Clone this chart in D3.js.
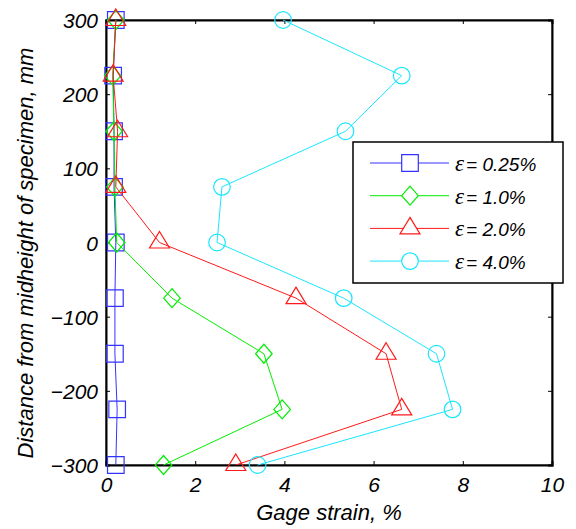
<!DOCTYPE html>
<html>
<head>
<style>
  body { margin: 0; background: #fff; }
  text { font-family: "Liberation Sans", Arial, sans-serif; font-style: italic; fill: #000; }
  .eps { font-family: "Liberation Serif", "Times New Roman", serif; }
</style>
</head>
<body>
<svg id="chart"></svg>
<script src="https://d3js.org/d3.v7.min.js"></script>
<script>
// positions along the specimen (mm)
const heights = [300, 225, 150, 75, 0, -75, -150, -225, -300];

// gage strain (%) per load level
const strain025 = [0.22, 0.16, 0.18, 0.18, 0.22, 0.2, 0.2, 0.25, 0.22];
const strain10  = [0.22, 0.15, 0.18, 0.2, 0.24, 1.48, 3.54, 3.95, 1.29];
const strain20  = [0.22, 0.16, 0.26, 0.22, 1.2, 4.26, 6.28, 6.63, 2.91];
const strain40  = [3.97, 6.63, 5.37, 2.6, 2.49, 5.33, 7.41, 7.77, 3.4];

const seriesNames = ["0.25%", "1.0%", "2.0%", "4.0%"];
const seriesColors = ["#3333ff", "#00ee00", "#ff1a1a", "#1ae6ff"];
const seriesSymbols = ["square", "diamond", "triangle", "circle"];
const seriesValues = [strain025, strain10, strain20, strain40];

const xTicks = [0, 2, 4, 6, 8, 10];
const yTicks = [-300, -200, -100, 0, 100, 200, 300];

const width = 576, height = 529;
const margin = { top: 20, right: 24, bottom: 64, left: 106 };
const innerW = width - margin.left - margin.right;
const innerH = height - margin.top - margin.bottom;

const svg = d3.select("#chart").attr("width", width).attr("height", height);
const g = svg.append("g").attr("transform", "translate(" + margin.left + "," + margin.top + ")");

const x = d3.scaleLinear().domain([0, 10]).range([0, innerW]);
const y = d3.scaleLinear().domain([-300, 300]).range([innerH, 0]);

// frame
g.append("rect").attr("width", innerW).attr("height", innerH)
  .attr("fill", "none").attr("stroke", "#000").attr("stroke-width", 1);

// axes with inward ticks
const xAxis = g.append("g").attr("transform", "translate(0," + innerH + ")")
  .call(d3.axisBottom(x).tickValues(xTicks).tickSize(-4).tickPadding(9));
g.append("g").call(d3.axisTop(x).tickValues(xTicks).tickSize(-4).tickFormat(""));
const yAxis = g.append("g")
  .call(d3.axisLeft(y).tickValues(yTicks).tickSize(-4).tickPadding(8));
g.append("g").attr("transform", "translate(" + innerW + ",0)")
  .call(d3.axisRight(y).tickValues(yTicks).tickSize(-4).tickFormat(""));

g.selectAll(".domain").attr("stroke", "#000").attr("stroke-width", 2);
g.selectAll(".tick line").attr("stroke", "#000");
g.selectAll(".tick text").attr("font-size", 21).attr("font-family", null).style("font-style", "italic");
xAxis.selectAll(".tick text").attr("dy", "0.85em");
yAxis.selectAll(".tick text").attr("dy", "0.36em");

// axis titles
svg.append("text")
  .attr("x", margin.left + innerW / 2).attr("y", height - 9)
  .attr("text-anchor", "middle").attr("font-size", 22)
  .text("Gage strain, %");
svg.append("text")
  .attr("transform", "translate(33," + 253 + ") rotate(-90)")
  .attr("text-anchor", "middle").attr("font-size", 22)
  .text("Distance from midheight of specimen, mm");

// marker shapes (MATLAB-like proportions)
const markerShapes = {
  square: "M-8.3,-8.3H8.3V8.3H-8.3Z",
  diamond: "M0,-9.5L8.3,0L0,9.5L-8.3,0Z",
  triangle: "M0,-11L10,5.5H-10Z",
  circle: d3.symbol().type(d3.symbolCircle).size(Math.PI * 8.3 * 8.3)()
};

const line = d3.line().x(d => x(d[0])).y(d => y(d[1]));

seriesValues.forEach((vals, i) => {
  const pts = vals.map((v, k) => [v, heights[k]]);
  const sg = g.append("g");
  sg.append("path").datum(pts).attr("d", line)
    .attr("fill", "none").attr("stroke", seriesColors[i]).attr("stroke-width", 1);
  sg.selectAll("path.m").data(pts).join("path").attr("class", "m")
    .attr("d", markerShapes[seriesSymbols[i]])
    .attr("transform", d => "translate(" + x(d[0]) + "," + y(d[1]) + ")")
    .attr("fill", "none").attr("stroke", seriesColors[i]).attr("stroke-width", 1.2);
});

// legend
const lg = svg.append("g").attr("transform", "translate(353,142)");
lg.append("rect").attr("width", 210).attr("height", 141)
  .attr("fill", "#fff").attr("stroke", "#000").attr("stroke-width", 1.5);
seriesNames.forEach((name, i) => {
  const ry = 21 + i * 32.7;
  lg.append("line").attr("x1", 17).attr("x2", 96).attr("y1", ry).attr("y2", ry)
    .attr("stroke", seriesColors[i]).attr("stroke-width", 1);
  lg.append("path").attr("d", markerShapes[seriesSymbols[i]])
    .attr("transform", "translate(57," + ry + ")")
    .attr("fill", "#fff").attr("stroke", seriesColors[i]).attr("stroke-width", 1.2);
  const t = lg.append("text").attr("x", 102).attr("y", ry + 8).attr("font-size", 19);
  t.append("tspan").attr("class", "eps").attr("font-size", 23).text("ε");
  t.append("tspan").attr("dx", 2).text("= " + name);
});
</script>
</body>
</html>
